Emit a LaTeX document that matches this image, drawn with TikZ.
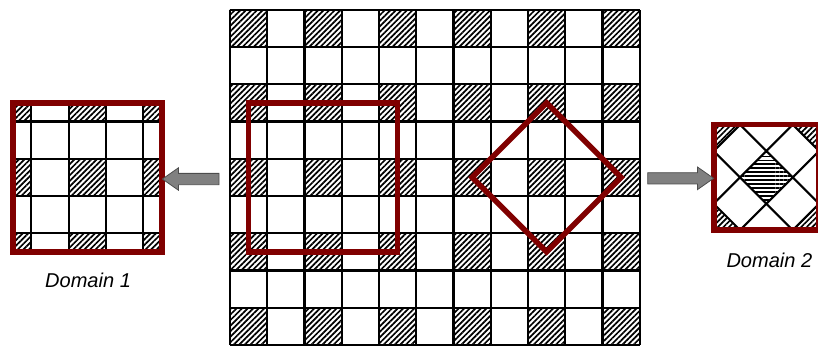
\documentclass[tikz,border=0pt]{standalone}
\usepackage{fontspec}
\setmainfont{Liberation Sans}
\usepackage{tikz}
\usetikzlibrary{patterns.meta, shapes.arrows, positioning}
\definecolor{domred}{RGB}{128,0,0}
\definecolor{arrowgray}{RGB}{128,128,128}

\begin{document}
\begin{tikzpicture}[
    gridline/.style={line width=1.6pt, black},
    hatch/.style={pattern={Lines[angle=45, distance=3pt, line width=1.3pt]}},
    hatchflat/.style={pattern={Lines[angle=0, distance=3pt, line width=1.3pt]}},
    domline/.style={draw=domred, line width=4.3pt},
    inset/.style={domline, minimum size=#1, inner sep=0pt},
    shiftarrow/.style={single arrow, draw=gray!60!black, fill=arrowgray, line width=0.6pt,
                inner xsep=0pt, inner ysep=4pt, single arrow head extend=0.15cm,
                single arrow tip angle=70, minimum height=#1},
    caption/.style={font=\itshape\fontsize{15.3}{18}\selectfont, anchor=base, inner sep=0pt}
]
\useasboundingbox (-6.174,0) rectangle (15.785,9.262);

% full lattice
\foreach \i in {0,2,...,10}
  \foreach \j in {0,2,...,8}
    \fill[hatch] (\i,\j) rectangle ++(1,1);
\draw[gridline] (0,0) grid (11,9);

% the two domains cut from the lattice
\draw[domline] (0.5,2.5) rectangle (4.5,6.5);
\draw[domline] (8.5,6.5) -- (10.5,4.5) -- (8.5,2.5) -- (6.5,4.5) -- cycle;

% Domain 1
\begin{scope}[xshift=-6.33cm]
  \clip (0.5,2.5) rectangle (4.5,6.5);
  \foreach \i in {0,2,4}
    \foreach \j in {2,4,6}
      \fill[hatch] (\i,\j) rectangle ++(1,1);
  \draw[gridline] (0,2) grid (5,7);
\end{scope}
\node[inset=4cm] (dom1) at (-3.83,4.5) {};

% Domain 2
\begin{scope}[shift={(14.4,4.5)}, rotate=45, shift={(-8.5,-4.5)}]
  \clip (8.5,6.5) -- (10.5,4.5) -- (8.5,2.5) -- (6.5,4.5) -- cycle;
  \foreach \c in {(8,6),(10,4),(8,2),(6,4)}
    \fill[hatch] \c rectangle ++(1,1);
  \fill[hatchflat] (8,4) rectangle ++(1,1);
  \draw[gridline] (6,2) grid (11,7);
\end{scope}
\node[inset=2.83cm] (dom2) at (14.4,4.5) {};

\node[shiftarrow=1.52cm, shape border rotate=180] (larr) at (-0.946,4.456) {};
\node[shiftarrow=1.77cm] (rarr) at (11.99,4.475) {};

\node[caption] (cap1) at (-3.81,1.549) {Domain 1};
\node[caption] (cap2) at (14.48,2.086) {Domain 2};
\end{tikzpicture}
\end{document}
